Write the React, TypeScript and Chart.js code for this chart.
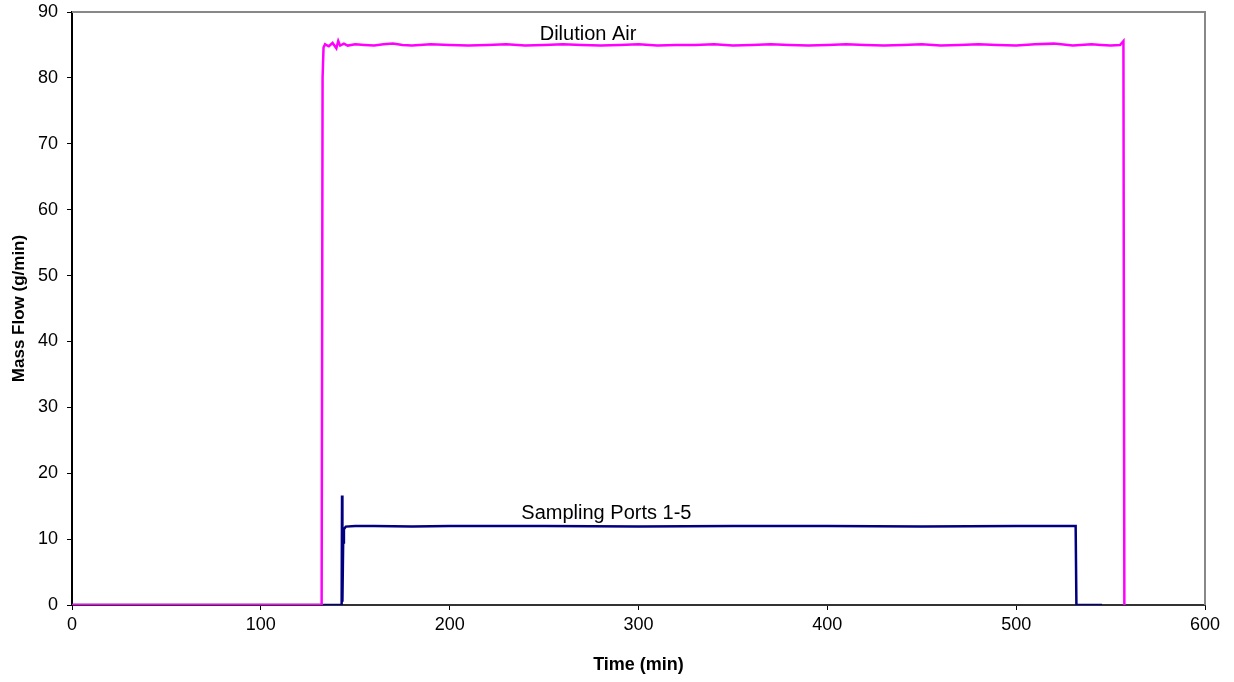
import React, { useEffect, useRef } from "react";
import { Chart, registerables } from "chart.js";

Chart.register(...registerables);

// Dilution Air series (time in min, mass flow in g/min)
const airTime = [
  0, 132.2, 132.7, 133.2, 134, 136, 138, 140, 141, 142, 144, 146, 150, 155, 160, 165, 170, 175, 180, 190,
  200, 210, 220, 230, 240, 250, 260, 270, 280, 290, 300, 310, 320, 330, 340, 350, 360, 370, 380, 390,
  400, 410, 420, 430, 440, 450, 460, 470, 480, 490, 500, 510, 520, 530, 540, 545, 550, 555, 556.8, 557.3,
];
const airFlow = [
  0, 0, 80, 84.6, 85.1, 84.8, 85.3, 84.5, 85.6, 84.9, 85.2, 84.9, 85.1, 85.0, 84.9, 85.1, 85.2, 85.0, 84.9, 85.1,
  85.0, 84.9, 85.0, 85.1, 84.9, 85.0, 85.1, 85.0, 84.9, 85.0, 85.1, 84.9, 85.0, 85.0, 85.1, 84.9, 85.0, 85.1, 85.0, 84.9,
  85.0, 85.1, 85.0, 84.9, 85.0, 85.1, 84.9, 85.0, 85.1, 85.0, 84.9, 85.1, 85.2, 84.9, 85.1, 85.0, 84.9, 85.0, 85.6, 0,
];

// Sampling Ports 1-5 series
const portTime = [
  0, 142.8, 143.0, 143.2, 143.6, 144.0, 145, 150, 160, 180, 200, 250, 300, 350, 400, 450, 500, 520, 531.5, 531.9, 545.5,
];
const portFlow = [
  0, 0, 16.6, 0.5, 9.5, 11.5, 11.9, 12.0, 12.0, 11.9, 12.0, 12.0, 11.9, 12.0, 12.0, 11.9, 12.0, 12.0, 12.0, 0, 0,
];

const xTicks = [0, 100, 200, 300, 400, 500, 600];
const yTicks = [0, 10, 20, 30, 40, 50, 60, 70, 80, 90];

const labels = [
  { text: "Dilution Air", x: 273.3, y: 86.6 },
  { text: "Sampling Ports 1-5", x: 283.0, y: 13.9 },
];

const FONT = "'Liberation Sans', Arial, sans-serif";

export default function App() {
  const ref = useRef<HTMLCanvasElement | null>(null);
  useEffect(() => {
    document.body.style.margin = "0";
    const canvas = ref.current;
    if (!canvas) return;
    const borderPlugin = {
      id: "plotBorder",
      beforeDatasetsDraw(chart: any) {
        const { ctx, chartArea } = chart;
        ctx.save();
        ctx.strokeStyle = "#888888";
        ctx.lineWidth = 2;
        ctx.beginPath();
        ctx.moveTo(chartArea.left, chartArea.top);
        ctx.lineTo(chartArea.right, chartArea.top);
        ctx.lineTo(chartArea.right, chartArea.bottom);
        ctx.stroke();
        ctx.restore();
      },
      afterDraw(chart: any) {
        const { ctx } = chart;
        const xs = chart.scales.x;
        const ys = chart.scales.y;
        ctx.save();
        ctx.fillStyle = "#000";
        ctx.font = `20px ${FONT}`;
        ctx.textAlign = "center";
        ctx.textBaseline = "middle";
        for (const l of labels) {
          ctx.fillText(l.text, xs.getPixelForValue(l.x), ys.getPixelForValue(l.y));
        }
        ctx.restore();
      },
    };
    const chart = new Chart(canvas, {
      type: "line",
      data: {
        datasets: [
          {
            label: "Dilution Air",
            data: airTime.map((t, i) => ({ x: t, y: airFlow[i] })),
            borderColor: "#FF00FF",
            borderWidth: 2.5,
            pointRadius: 0,
            tension: 0,
          },
          {
            label: "Sampling Ports 1-5",
            data: portTime.map((t, i) => ({ x: t, y: portFlow[i] })),
            borderColor: "#000080",
            borderWidth: 2.5,
            pointRadius: 0,
            tension: 0,
          },
        ],
      },
      options: {
        animation: false,
        responsive: false,
        maintainAspectRatio: false,
        layout: { padding: { top: 12, right: 29, left: 0, bottom: 0 } },
        plugins: { legend: { display: false }, tooltip: { enabled: false } },
        scales: {
          x: {
            type: "linear",
            min: 0,
            max: 600,
            afterBuildTicks: (s: any) => {
              s.ticks = xTicks.map((v) => ({ value: v }));
            },
            afterFit: (s: any) => {
              s.height = 77;
              s.paddingLeft = 0;
              s.paddingRight = 0;
            },
            grid: { drawOnChartArea: false, drawTicks: true, tickLength: 5, color: "#000" },
            border: { display: true, color: "#333", width: 2 },
            ticks: { color: "#000", font: { family: FONT, size: 18 }, padding: 4, maxRotation: 0 },
            title: {
              display: true,
              text: "Time (min)",
              color: "#000",
              font: { family: FONT, size: 18, weight: "bold" },
              padding: { top: 6, bottom: 6 },
            },
          },
          y: {
            type: "linear",
            min: 0,
            max: 90,
            afterBuildTicks: (s: any) => {
              s.ticks = yTicks.map((v) => ({ value: v }));
            },
            afterFit: (s: any) => {
              s.width = 72;
              s.paddingTop = 0;
              s.paddingBottom = 0;
            },
            grid: { drawOnChartArea: false, drawTicks: true, tickLength: 5, color: "#000" },
            border: { display: true, color: "#000", width: 2 },
            ticks: { color: "#000", font: { family: FONT, size: 18 }, padding: 9 },
            title: {
              display: true,
              text: "Mass Flow (g/min)",
              color: "#000",
              font: { family: FONT, size: 17, weight: "bold" },
              padding: { top: 9, bottom: 4 },
            },
          },
        },
      },
      plugins: [borderPlugin],
    });
    return () => chart.destroy();
  }, []);
  return (
    <div style={{ width: 1234, height: 682, background: "#fff" }}>
      <canvas ref={ref} width={1234} height={682} style={{ display: "block" }} />
    </div>
  );
}
